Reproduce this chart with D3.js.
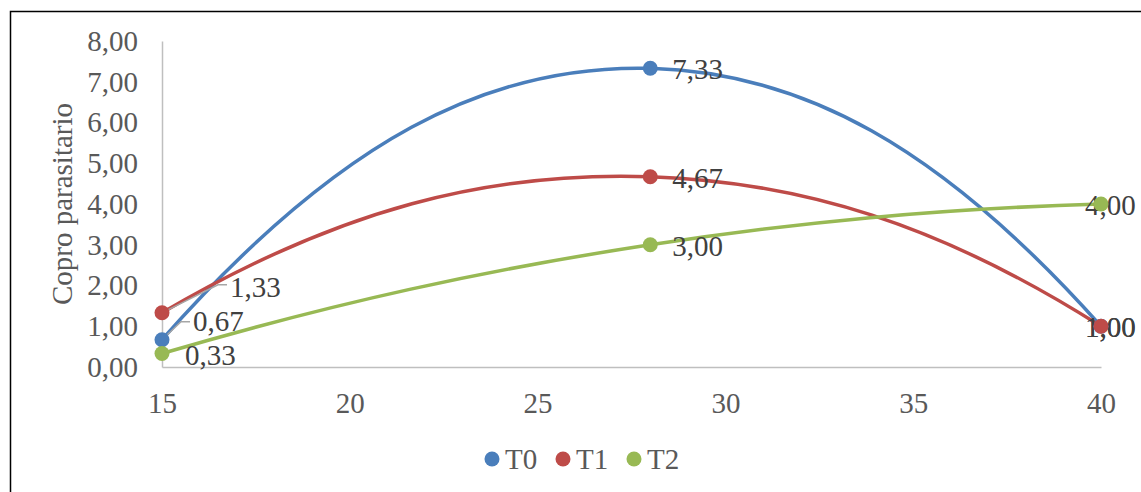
<!DOCTYPE html>
<html><head><meta charset="utf-8">
<script src="https://cdn.jsdelivr.net/npm/d3@7"></script>
<style>
body{margin:0;background:#fff}
svg{display:block}
text{font-family:"Liberation Serif","Times New Roman",serif}
</style>
</head><body><svg id="c" width="1141" height="492"></svg>
<script>
// ---- data ----
const xValues = [15, 28, 40];
const seriesNames = ["T0", "T1", "T2"];
const t0Values = [0.67, 7.33, 1.00];
const t1Values = [1.33, 4.67, 1.00];
const t2Values = [0.33, 3.00, 4.00];
const xTicks = [15, 20, 25, 30, 35, 40];
const yTicks = [0, 1, 2, 3, 4, 5, 6, 7, 8];
const yTitle = "Copro parasitario";

// ---- styles / layout ----
const colors = ["#4a7ebb", "#be4b48", "#98b954"];
const FS = 29;
const svg = d3.select("#c");
const x = d3.scaleLinear().domain([15, 40]).range([162, 1101]);
const y = d3.scaleLinear().domain([0, 8]).range([367, 41]);
const fmt = v => d3.format(".2f")(v).replace(".", ",");

// chart border
svg.append("rect").attr("x", 10.5).attr("y", 11.5).attr("width", 1400).attr("height", 800)
  .attr("fill", "none").attr("stroke", "#000").attr("stroke-width", 1.5);

// axes
const ay = svg.append("g").attr("transform", `translate(${x(15)},0)`)
  .call(d3.axisLeft(y).tickValues(yTicks).tickSize(0).tickSizeOuter(0).tickPadding(24).tickFormat(fmt));
const ax = svg.append("g").attr("transform", `translate(0,${y(0)})`)
  .call(d3.axisBottom(x).tickValues(xTicks).tickSize(0).tickSizeOuter(0).tickPadding(25).tickFormat(d3.format("d")));
[ay, ax].forEach(g => {
  g.select(".domain").attr("stroke", "#bfbfbf").attr("stroke-width", 1.5);
  g.selectAll("text").attr("font-size", FS).attr("fill", "#595959")
    .attr("font-family", '"Liberation Serif","Times New Roman",serif');
});

// y title
svg.append("text").attr("transform", "translate(72,204) rotate(-90)")
  .attr("text-anchor", "middle").attr("font-size", FS).attr("fill", "#595959").text(yTitle);

// Excel-like smoothing curve (parabolic tangents, chord-length parameterisation)
const END_SCALE = 1.08;
function ExcelSmooth(ctx) { this._context = ctx; }
ExcelSmooth.prototype = {
  areaStart() {}, areaEnd() {},
  lineStart() { this._p = []; },
  point(px, py) { this._p.push([+px, +py]); },
  lineEnd() {
    const p = this._p, n = p.length, c = this._context;
    if (!n) return;
    c.moveTo(p[0][0], p[0][1]);
    if (n < 3) { for (let i = 1; i < n; i++) c.lineTo(p[i][0], p[i][1]); return; }
    const d = [];
    for (let i = 0; i < n - 1; i++) d.push(Math.hypot(p[i + 1][0] - p[i][0], p[i + 1][1] - p[i][1]));
    const T = [];
    for (let i = 0; i < n; i++) {
      const a = Math.min(Math.max(i - 1, 0), n - 3);
      const t = [0, d[a], d[a] + d[a + 1]];
      const tau = t[i - a];
      let tx = 0, ty = 0;
      for (let j = 0; j < 3; j++) {
        const o = [0, 1, 2].filter(k => k !== j);
        const den = (t[j] - t[o[0]]) * (t[j] - t[o[1]]);
        const s = ((tau - t[o[0]]) + (tau - t[o[1]])) / den;
        tx += p[a + j][0] * s; ty += p[a + j][1] * s;
      }
      const f = (i === 0 || i === n - 1) ? END_SCALE : 1;
      T.push([tx * f, ty * f]);
    }
    for (let i = 0; i < n - 1; i++) {
      const h = d[i] / 3;
      c.bezierCurveTo(p[i][0] + T[i][0] * h, p[i][1] + T[i][1] * h,
        p[i + 1][0] - T[i + 1][0] * h, p[i + 1][1] - T[i + 1][1] * h, p[i + 1][0], p[i + 1][1]);
    }
  }
};
const excelSmooth = ctx => new ExcelSmooth(ctx);

const series = [t0Values, t1Values, t2Values].map((vals, k) => ({
  name: seriesNames[k], color: colors[k], pts: xValues.map((xv, i) => ({ x: xv, y: vals[i] }))
}));

const line = d3.line().x(d => x(d.x)).y(d => y(d.y)).curve(excelSmooth);
svg.append("g").selectAll("path").data(series).join("path")
  .attr("d", s => line(s.pts)).attr("fill", "none")
  .attr("stroke", s => s.color).attr("stroke-width", 3.5).attr("stroke-linecap", "round");

// label offsets (label left-centre relative to point)
const labelOffsets = [
  [[31, -18], [22, 1], [-16, 1]],
  [[68, -25], [22, 2], [-16, 1]],
  [[23, 2], [22, 2], [-16, 1]]
];
const lg = svg.append("g");
series.forEach((s, k) => {
  s.pts.forEach((d, i) => {
    const px = x(d.x), py = y(d.y);
    const [dx, dy] = labelOffsets[k][i];
    const lx = px + dx, ly = py + dy;
    if ((k === 0 || k === 1) && i === 0) {
      const ex = lx - 12, ey = ly - (k === 1 ? 3 : 0);
      const ang = Math.atan2(ey - py, ex - px);
      const sx = px + Math.cos(ang) * 5, sy = py + Math.sin(ang) * 5;
      lg.append("path").attr("d", `M${sx},${sy}L${ex},${ey}H${lx - 3}`)
        .attr("fill", "none").attr("stroke", "#a6a6a6").attr("stroke-width", 1.5);
    }
    lg.append("text").attr("x", lx).attr("y", ly + FS * 0.33).attr("font-size", FS)
      .attr("fill", "#404040").text(fmt(d.y));
  });
});

// markers
svg.append("g").selectAll("g").data(series).join("g").attr("fill", s => s.color)
  .selectAll("circle").data(s => s.pts).join("circle")
  .attr("cx", d => x(d.x)).attr("cy", d => y(d.y)).attr("r", 7.5);

// legend
const legX = [492, 563, 634];
const leg = svg.append("g");
series.forEach((s, k) => {
  leg.append("circle").attr("cx", legX[k]).attr("cy", 459).attr("r", 7.5).attr("fill", s.color);
  leg.append("text").attr("x", legX[k] + 13).attr("y", 459 + FS * 0.34).attr("font-size", FS)
    .attr("fill", "#595959").text(s.name);
});
</script></body></html>
